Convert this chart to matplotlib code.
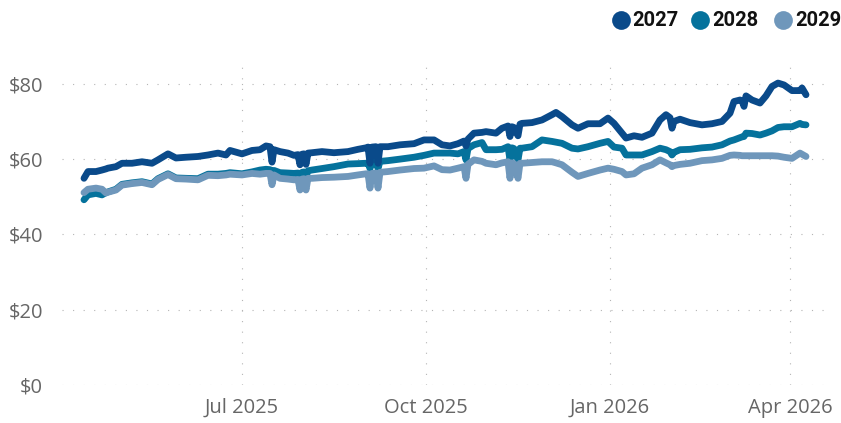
import matplotlib
matplotlib.use("Agg")
import matplotlib.pyplot as plt
import matplotlib.dates as mdates
import pandas as pd
from matplotlib.lines import Line2D

dates = [
    "2025-04-13", "2025-04-15", "2025-04-19", "2025-04-22", "2025-04-24", "2025-04-25", "2025-04-29",
    "2025-05-02", "2025-05-07", "2025-05-12", "2025-05-17", "2025-05-20", "2025-05-25", "2025-05-29",
    "2025-06-03", "2025-06-09", "2025-06-14", "2025-06-19", "2025-06-23", "2025-06-25",
    "2025-07-01", "2025-07-06", "2025-07-10", "2025-07-13", "2025-07-15", "2025-07-16", "2025-07-17",
    "2025-07-20", "2025-07-24", "2025-07-27", "2025-07-29", "2025-07-30", "2025-07-31",
    "2025-08-01", "2025-08-02", "2025-08-03", "2025-08-05", "2025-08-10", "2025-08-16", "2025-08-23", "2025-08-28",
    "2025-09-01", "2025-09-02", "2025-09-03", "2025-09-04", "2025-09-06", "2025-09-07", "2025-09-08",
    "2025-09-12", "2025-09-18", "2025-09-25", "2025-09-30",
    "2025-10-05", "2025-10-09", "2025-10-13", "2025-10-17", "2025-10-20", "2025-10-21", "2025-10-22",
    "2025-10-25", "2025-10-29", "2025-10-31",
    "2025-11-05", "2025-11-08", "2025-11-11", "2025-11-12", "2025-11-13", "2025-11-14", "2025-11-16",
    "2025-11-17", "2025-11-18", "2025-11-23", "2025-11-28",
    "2025-12-03", "2025-12-05", "2025-12-08", "2025-12-13", "2025-12-16", "2025-12-21", "2025-12-27", "2025-12-31",
    "2026-01-03", "2026-01-07", "2026-01-09", "2026-01-13", "2026-01-17", "2026-01-22", "2026-01-26",
    "2026-01-29", "2026-01-31",
    "2026-02-01", "2026-02-02", "2026-02-05", "2026-02-10", "2026-02-16", "2026-02-21", "2026-02-26",
    "2026-03-02", "2026-03-04", "2026-03-07", "2026-03-08", "2026-03-09", "2026-03-10", "2026-03-13",
    "2026-03-17", "2026-03-20", "2026-03-23", "2026-03-26", "2026-03-29",
    "2026-04-02", "2026-04-06", "2026-04-07", "2026-04-09",
]

price_2027 = [
    54.9, 56.7, 56.7, 57.1, 57.4, 57.6, 58.0,
    58.9, 58.9, 59.3, 58.9, 59.8, 61.4, 60.3,
    60.5, 60.7, 61.1, 61.6, 61.1, 62.3,
    61.4, 62.3, 62.5, 63.5, 63.3, 59.2, 62.5,
    62.0, 61.6, 61.0, 61.2, 58.5, 61.3,
    61.4, 58.6, 61.6, 61.7, 62.0, 61.7, 62.0, 62.6,
    63.0, 63.2, 58.9, 63.2, 63.3, 58.9, 63.3,
    63.3, 63.8, 64.1, 65.1,
    65.1, 63.8, 63.5, 64.1, 64.8, 63.5, 65.3,
    66.9, 67.1, 67.3,
    66.9, 68.2, 68.8, 66.0, 68.6, 68.4, 66.2,
    69.3, 69.5, 69.7, 70.4,
    71.8, 72.4, 71.3, 69.1, 68.2, 69.4, 69.4, 70.9,
    69.5, 66.9, 65.6, 66.2, 65.8, 66.9, 70.4,
    71.8, 71.0,
    68.2, 70.0, 70.6, 69.7, 69.1, 69.4, 70.0,
    72.2, 75.3, 75.7, 75.5, 74.0, 76.8, 75.7,
    74.9, 76.8, 79.3, 80.2, 79.7,
    78.2, 78.2, 78.9, 77.1,
]

price_2028 = [
    49.2, 50.5, 50.9, 50.5, 51.1, 51.3, 52.0,
    53.3, 53.7, 54.0, 53.4, 54.8, 56.1, 55.0,
    54.9, 54.8, 56.0, 56.0, 56.2, 56.4,
    56.1, 56.6, 57.1, 57.3, 57.2, 55.5, 57.0,
    56.4, 56.3, 56.2, 56.3, 55.0, 56.5,
    56.6, 55.3, 56.9, 57.1, 57.5, 58.0, 58.7, 58.8,
    58.9, 59.0, 57.5, 59.1, 59.2, 57.5, 59.4,
    59.6, 60.0, 60.5, 61.0,
    61.6, 61.6, 61.6, 61.4, 62.0, 59.8, 62.8,
    63.8, 64.4, 62.5,
    62.5, 62.6, 63.3, 59.8, 63.0, 62.8, 59.8,
    62.9, 62.9, 63.3, 65.1,
    64.7, 64.5, 64.2, 62.9, 62.7, 63.3, 64.2, 64.7,
    63.2, 62.9, 61.1, 61.1, 61.1, 62.0, 62.9,
    62.5, 62.0,
    61.1, 61.8, 62.5, 62.6, 63.0, 63.2, 63.8,
    64.8, 65.1, 65.7, 65.9, 66.0, 66.9, 66.8,
    66.4, 66.9, 67.5, 68.4, 68.6,
    68.6, 69.5, 69.2, 69.1,
]

price_2029 = [
    51.1, 52.0, 52.3, 52.0, 51.0, 51.2, 51.8,
    53.1, 53.5, 53.8, 53.2, 54.6, 55.9, 54.8,
    54.7, 54.5, 55.7, 55.6, 55.8, 56.0,
    55.8, 56.2, 56.0, 56.2, 56.2, 53.2, 55.8,
    54.9, 54.7, 54.5, 54.6, 51.8, 54.7,
    54.8, 51.8, 54.9, 54.9, 55.1, 55.2, 55.4, 55.8,
    56.1, 56.1, 52.3, 56.2, 56.3, 52.3, 56.5,
    56.7, 57.1, 57.5, 57.6,
    58.2, 57.2, 57.1, 57.6, 58.0, 54.9, 58.6,
    59.8, 59.4, 58.9,
    58.5, 59.0, 59.3, 54.9, 59.0, 58.8, 54.9,
    58.9, 58.9, 59.1, 59.3,
    59.3, 59.0, 58.5, 56.5, 55.4, 56.2, 57.1, 57.6,
    57.3, 56.7, 55.8, 56.1, 57.6, 58.5, 59.8,
    59.0, 58.5,
    58.0, 58.3, 58.6, 58.9, 59.6, 59.8, 60.2,
    61.0, 61.1, 61.0, 60.9, 60.9, 60.9, 60.9,
    60.9, 60.9, 60.9, 60.8, 60.5,
    60.2, 61.6, 61.3, 60.7,
]

series_names = ["2027", "2028", "2029"]
series_values = [price_2027, price_2028, price_2029]
series_colors = ["#0a4a8a", "#05729c", "#6f97bb"]
draw_order = ["2028", "2029", "2027"]

y_ticks = [0, 20, 40, 60, 80]
x_ticks = ["2025-07-01", "2025-10-01", "2026-01-01", "2026-04-01"]

plt.rcParams["font.family"] = ["Open Sans", "DejaVu Sans"]

fig = plt.figure(figsize=(8.41, 4.23), dpi=100)
ax = fig.add_axes([62 / 841, 38 / 423, (825 - 62) / 841, (385 - 65) / 423])

x = pd.to_datetime(dates)
lookup = {n: (v, c) for n, v, c in zip(series_names, series_values, series_colors)}
for z, name in enumerate(draw_order):
    vals, col = lookup[name]
    ax.plot(x, vals, color=col, lw=4.9, solid_joinstyle="round",
            solid_capstyle="round", zorder=3 + z)

ax.set_ylim(0, 85)
ax.set_xlim(pd.Timestamp("2025-04-02"), pd.Timestamp("2026-04-18 12:00"))
ax.set_yticks(y_ticks)
ax.set_yticklabels([f"${v}" for v in y_ticks])
ax.set_xticks(pd.to_datetime(x_ticks))
ax.xaxis.set_major_formatter(mdates.DateFormatter("%b %Y"))

for s in ax.spines.values():
    s.set_visible(False)
ax.tick_params(axis="both", length=0, labelsize=14.5, colors="#666666")
ax.tick_params(axis="y", pad=13.5)
ax.tick_params(axis="x", pad=9)
ax.grid(True, color="#b5b5b5", lw=0.8, linestyle=(0, (1, 8.5)))
ax.set_axisbelow(True)

# legend row at the top right
legend_y = 1 - 20 / 423
circle_x = [621, 700, 783]
text_x = [632, 712, 795]
for name, col, cx, tx in zip(series_names, series_colors, circle_x, text_x):
    fig.add_artist(Line2D([cx / 841], [legend_y], marker="o", markersize=13.5,
                          color=col, markeredgewidth=0, transform=fig.transFigure))
    fig.text(tx / 841, legend_y, name, ha="left", va="center", fontsize=14.5,
             fontweight="bold", family=["Roboto", "DejaVu Sans"], color="#111111")

fig.savefig("out.png", dpi=100)
